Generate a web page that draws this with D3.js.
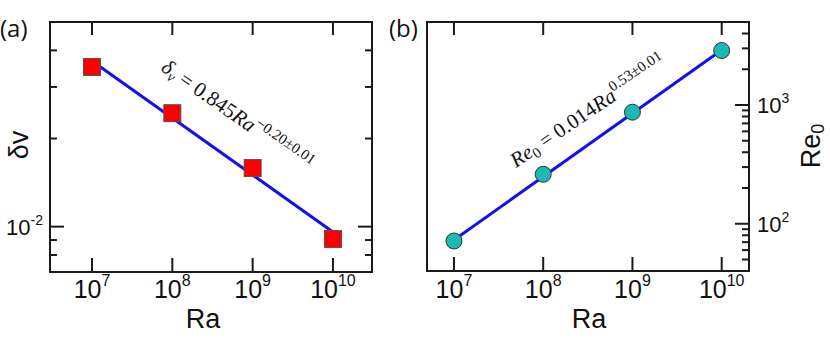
<!DOCTYPE html>
<html>
<head>
<meta charset="utf-8">
<script src="https://cdn.jsdelivr.net/npm/d3@7"></script>
<style>
  html, body { margin: 0; padding: 0; background: #fff; }
  svg { display: block; }
  text { font-family: "Liberation Sans", Arial, sans-serif; fill: #111; }
  .eq { font-family: "Liberation Serif", "DejaVu Serif", serif; }
</style>
</head>
<body>
<svg id="chart" width="830" height="338"></svg>
<script>
// ---------- data ----------
const ra = [1e7, 1e8, 1e9, 1e10];
const deltaV = [0.0351, 0.0244, 0.01585, 0.00907];
const re0 = [71.6, 261, 870, 2876];
const fitRa = [1e7, 1e10];
const deltaFit = [0.0368, 0.00959];
const reFit = [72.9, 2903];
const xTickExp = [7, 8, 9, 10];
const yTickExpA = [-2];
const yTickExpB = [2, 3];
const minorA = [0.008, 0.009, 0.02, 0.03, 0.04];
const minorB = [50, 60, 70, 80, 90, 200, 300, 400, 500, 600, 700, 800, 900, 2000, 3000, 4000];

const svg = d3.select("#chart");

// ---------- scales ----------
const xA = d3.scaleLog().domain([Math.pow(10, 6.477), Math.pow(10, 10.486)]).range([50, 372]);
const yA = d3.scaleLog().domain([0.007, 0.05]).range([272, 22]);
const xB = d3.scaleLog().domain([Math.pow(10, 6.698), Math.pow(10, 10.306)]).range([427, 749]);
const yB = d3.scaleLog().domain([40, 5000]).range([271, 22]);

const frameColor = "#1a1a1a";

function frame(g, x, y) {
  const [x0, x1] = x.range(), [y0, y1] = y.range();
  g.append("rect").attr("x", x0).attr("y", y1).attr("width", x1 - x0).attr("height", y0 - y1)
    .attr("fill", "none").attr("stroke", frameColor).attr("stroke-width", 2);
}

function xTicks(g, x, y) {
  const [y0, y1] = y.range();
  xTickExp.forEach(e => {
    const px = x(Math.pow(10, e));
    g.append("line").attr("x1", px).attr("x2", px).attr("y1", y0).attr("y2", y0 - 14)
      .attr("stroke", frameColor).attr("stroke-width", 2);
    g.append("line").attr("x1", px).attr("x2", px).attr("y1", y1).attr("y2", y1 + 13)
      .attr("stroke", frameColor).attr("stroke-width", 2);
    const t = g.append("text").attr("x", px).attr("y", 298).attr("text-anchor", "middle")
      .attr("font-size", 25);
    t.append("tspan").text("10");
    t.append("tspan").attr("font-size", 16).attr("dy", -12).text(e);
  });
}

function yTicks(g, x, y, majors, minors, left, right, labelSide) {
  const [x0, x1] = x.range();
  const draw = (v, len) => {
    const py = y(v);
    if (left) g.append("line").attr("x1", x0).attr("x2", x0 + len).attr("y1", py).attr("y2", py)
      .attr("stroke", frameColor).attr("stroke-width", 2);
    if (right) g.append("line").attr("x1", x1).attr("x2", x1 - len).attr("y1", py).attr("y2", py)
      .attr("stroke", frameColor).attr("stroke-width", 2);
  };
  minors.forEach(v => draw(v, 7));
  majors.forEach(e => {
    const v = Math.pow(10, e);
    draw(v, 14);
    const py = y(v);
    const t = g.append("text").attr("font-size", 22).attr("y", py + 8);
    if (labelSide === "left") t.attr("x", 43).attr("text-anchor", "end");
    else t.attr("x", x1 + 8).attr("text-anchor", "start");
    t.append("tspan").text("10");
    t.append("tspan").attr("font-size", 14).attr("dy", -10).text(e < 0 ? "-" + (-e) : e);
  });
}

// ---------- panel (a) ----------
const gA = svg.append("g");
frame(gA, xA, yA);
xTicks(gA, xA, yA);
yTicks(gA, xA, yA, yTickExpA, minorA, true, true, "left");

gA.append("path")
  .datum(fitRa.map((r, i) => [r, deltaFit[i]]))
  .attr("d", d3.line().x(d => xA(d[0])).y(d => yA(d[1])))
  .attr("stroke", "#1010f0").attr("stroke-width", 3).attr("fill", "none");

const sq = 17;
gA.selectAll("rect.pt").data(ra.map((r, i) => [r, deltaV[i]])).join("rect")
  .attr("class", "pt")
  .attr("x", d => xA(d[0]) - sq / 2).attr("y", d => yA(d[1]) - sq / 2)
  .attr("width", sq).attr("height", sq)
  .attr("fill", "#ff0000").attr("stroke", "#555").attr("stroke-width", 1);

// equation (a)
const eqA = gA.append("text").attr("class", "eq").attr("font-size", 21)
  .attr("transform", "translate(160,70) rotate(35)");
eqA.append("tspan").attr("font-style", "italic").text("δ");
eqA.append("tspan").attr("font-style", "italic").attr("font-size", 15).attr("dy", 4).text("v");
eqA.append("tspan").attr("dy", -4).text(" = 0.845");
eqA.append("tspan").attr("font-style", "italic").text("Ra");
eqA.append("tspan").attr("font-size", 15).attr("dy", -9).text("−0.20±0.01");

// labels (a)
gA.append("text").attr("x", 0).attr("y", 37).attr("font-size", 24)
  .style("font-family", "'Open Sans', sans-serif").text("(a)");
gA.append("text").attr("x", 203).attr("y", 328).attr("text-anchor", "middle")
  .attr("font-size", 27).text("Ra");
gA.append("text").attr("transform", "translate(28,145) rotate(-90)").attr("text-anchor", "middle")
  .attr("font-size", 27).text("δv");

// ---------- panel (b) ----------
const gB = svg.append("g");
frame(gB, xB, yB);
xTicks(gB, xB, yB);
yTicks(gB, xB, yB, yTickExpB, minorB, false, true, "right");

gB.append("path")
  .datum(fitRa.map((r, i) => [r, reFit[i]]))
  .attr("d", d3.line().x(d => xB(d[0])).y(d => yB(d[1])))
  .attr("stroke", "#1010f0").attr("stroke-width", 3).attr("fill", "none");

gB.selectAll("circle.pt").data(ra.map((r, i) => [r, re0[i]])).join("circle")
  .attr("class", "pt")
  .attr("cx", d => xB(d[0])).attr("cy", d => yB(d[1])).attr("r", 8)
  .attr("fill", "#1bb8b4").attr("stroke", "#333").attr("stroke-width", 1);

const eqB = gB.append("text").attr("class", "eq").attr("font-size", 21)
  .attr("transform", "translate(516,168) rotate(-34)");
eqB.append("tspan").attr("font-style", "italic").text("Re");
eqB.append("tspan").attr("font-size", 15).attr("dy", 4).text("0");
eqB.append("tspan").attr("dy", -4).text(" = 0.014");
eqB.append("tspan").attr("font-style", "italic").text("Ra");
eqB.append("tspan").attr("font-size", 15).attr("dy", -9).text("0.53±0.01");

gB.append("text").attr("x", 389).attr("y", 37).attr("font-size", 24)
  .style("font-family", "'Open Sans', sans-serif").text("(b)");
gB.append("text").attr("x", 589).attr("y", 328).attr("text-anchor", "middle")
  .attr("font-size", 27).text("Ra");
const reLab = gB.append("text").attr("transform", "translate(820,146) rotate(-90)")
  .attr("text-anchor", "middle").attr("font-size", 27);
reLab.append("tspan").text("Re");
reLab.append("tspan").attr("font-size", 18).attr("dy", 4).text("0");
</script>
</body>
</html>
